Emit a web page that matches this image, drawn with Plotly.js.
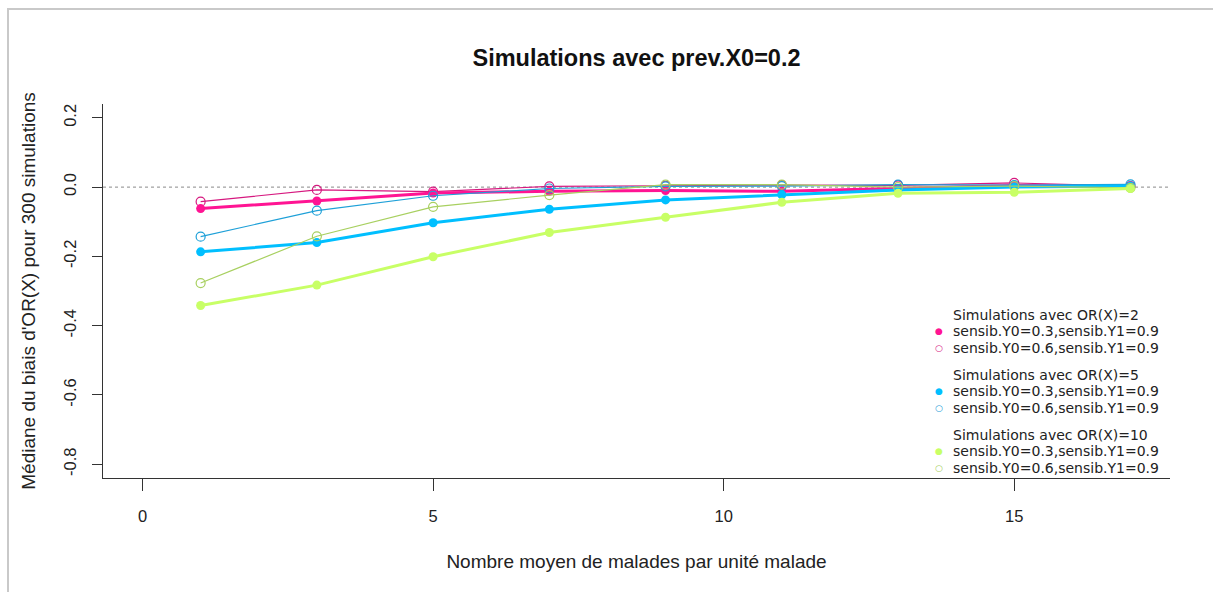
<!DOCTYPE html>
<html>
<head>
<meta charset="utf-8">
<script src="https://cdn.plot.ly/plotly-3.0.1.min.js"></script>
<style>
  html, body { margin: 0; padding: 0; background: #fff; }
  #chart { width: 1213px; height: 592px; }
  #frame { position: absolute; left: 7px; top: 8px; width: 1220px; height: 600px;
           border-top: 2px solid #c9c9c9; border-left: 2px solid #c9c9c9; pointer-events: none; }
</style>
</head>
<body>
<div id="chart"></div>
<div id="frame"></div>
<script>
// ---- data ----
const nbMalades = [1, 3, 5, 7, 9, 11, 13, 15, 17];

const or2_s03 = [-0.062, -0.040, -0.017, -0.012, -0.010, -0.012, -0.004, 0.005, 0.002];
const or2_s06 = [-0.042, -0.008, -0.013, 0.002, 0.004, 0.006, 0.005, 0.012, 0.003];
const or5_s03 = [-0.187, -0.160, -0.103, -0.064, -0.037, -0.022, -0.008, 0.000, 0.003];
const or5_s06 = [-0.143, -0.068, -0.025, -0.004, 0.002, 0.003, 0.007, 0.006, 0.008];
const or10_s03 = [-0.342, -0.283, -0.201, -0.131, -0.087, -0.044, -0.018, -0.015, -0.004];
const or10_s06 = [-0.277, -0.142, -0.057, -0.023, 0.007, 0.007, 0.000, 0.003, -0.002];

const groupTitles = ["Simulations avec OR(X)=2", "Simulations avec OR(X)=5", "Simulations avec OR(X)=10"];
const seriesLabels = ["sensib.Y0=0.3,sensib.Y1=0.9", "sensib.Y0=0.6,sensib.Y1=0.9"];
const xTicks = [0, 5, 10, 15];
const yTicks = [0.2, 0.0, -0.2, -0.4, -0.6, -0.8];
const yTickText = ["0.2", "0.0", "-0.2", "-0.4", "-0.6", "-0.8"];

// ---- styles ----
const groups = [
  { filled: or2_s03, open: or2_s06, cFill: "#FF1493", cOpen: "#D6187F" },
  { filled: or5_s03, open: or5_s06, cFill: "#00BFFF", cOpen: "#1EA0D8" },
  { filled: or10_s03, open: or10_s06, cFill: "#C8FF66", cOpen: "#A8D060" }
];

const traces = [];
groups.forEach((g) => {
  traces.push({
    x: nbMalades, y: g.open, mode: "lines+markers", showlegend: false,
    line: { color: g.cOpen, width: 1.2 },
    marker: { symbol: "circle-open", size: 9, color: g.cOpen, line: { width: 1.2 } },
    hoverinfo: "x+y"
  });
  traces.push({
    x: nbMalades, y: g.filled, mode: "lines+markers", showlegend: false,
    line: { color: g.cFill, width: 3 },
    marker: { symbol: "circle", size: 9, color: g.cFill },
    hoverinfo: "x+y"
  });
});

const font = "Liberation Sans, Arial, sans-serif";
const legFont = "DejaVu Sans, sans-serif";

// ---- legend (R-style, no box): text rows ----
const plotTop = 104, plotBottom = 478, plotLeft = 103, plotRight = 1170;
const toPX = (px) => (px - plotLeft) / (plotRight - plotLeft);
const toPY = (py) => (plotBottom - py) / (plotBottom - plotTop);
const legTextX = toPX(951), legSymX = toPX(939);
const groupTop = [314.5, 374.5, 434.5];
const rowStep = 16.5;
const annotations = [];
groups.forEach((g, i) => {
  const y0 = groupTop[i];
  annotations.push({ xref: "paper", yref: "paper", x: legTextX, y: toPY(y0), xanchor: "left", yanchor: "middle",
    text: groupTitles[i], showarrow: false, font: { size: 14, family: legFont, color: "#222" } });
  [0, 1].forEach((k) => {
    const yy = toPY(y0 + rowStep * (k + 1));
    annotations.push({ xref: "paper", yref: "paper", x: legTextX, y: yy, xanchor: "left", yanchor: "middle",
      text: seriesLabels[k], showarrow: false, font: { size: 14, family: legFont, color: "#222" } });
    annotations.push({ xref: "paper", yref: "paper", x: legSymX, y: yy, xanchor: "center", yanchor: "middle",
      text: k === 0 ? "●" : "○", showarrow: false,
      font: { size: 9, family: legFont, color: k === 0 ? g.cFill : g.cOpen } });
  });
});

const layout = {
  width: 1213, height: 592,
  paper_bgcolor: "#fff", plot_bgcolor: "#fff",
  margin: { l: 103, r: 43, t: 104, b: 114 },
  font: { family: font, color: "#222" },
  title: { text: "<b>Simulations avec prev.X0=0.2</b>", font: { size: 23.5, family: font, color: "#111" },
           x: 0.5, xref: "paper", xanchor: "center", y: 1 - 58 / 592, yref: "container", yanchor: "middle" },
  xaxis: {
    range: [-0.68, 17.68], tickvals: xTicks, ticktext: xTicks.map(String),
    showgrid: false, zeroline: false, showline: true, linecolor: "#333", linewidth: 1,
    ticks: "outside", ticklen: 12, tickcolor: "#333", tickwidth: 1,
    tickfont: { size: 16.5, family: font, color: "#222" }, ticklabelstandoff: 11,
    title: { text: "Nombre moyen de malades par unité malade", font: { size: 19, family: font, color: "#222" }, standoff: 30 },
    automargin: false, fixedrange: true
  },
  yaxis: {
    range: [-0.84, 0.24], tickvals: yTicks, ticktext: yTickText, tickangle: -90,
    showgrid: false, zeroline: false, showline: true, linecolor: "#333", linewidth: 1,
    ticks: "outside", ticklen: 10, tickcolor: "#333", tickwidth: 1,
    tickfont: { size: 16.5, family: font, color: "#222" }, ticklabelstandoff: 9,
    title: { text: "Médiane du biais d'OR(X) pour 300 simulations", font: { size: 19, family: font, color: "#222" }, standoff: 20 },
    automargin: false, fixedrange: true
  },
  shapes: [{
    type: "line", xref: "paper", x0: 0, x1: 1, yref: "y", y0: 0, y1: 0,
    line: { color: "#8a8a8a", width: 1, dash: "dot" }, layer: "below"
  }],
  annotations: annotations,
  showlegend: false
};

Plotly.newPlot("chart", traces, layout, { displayModeBar: false, staticPlot: true });
</script>
</body>
</html>
